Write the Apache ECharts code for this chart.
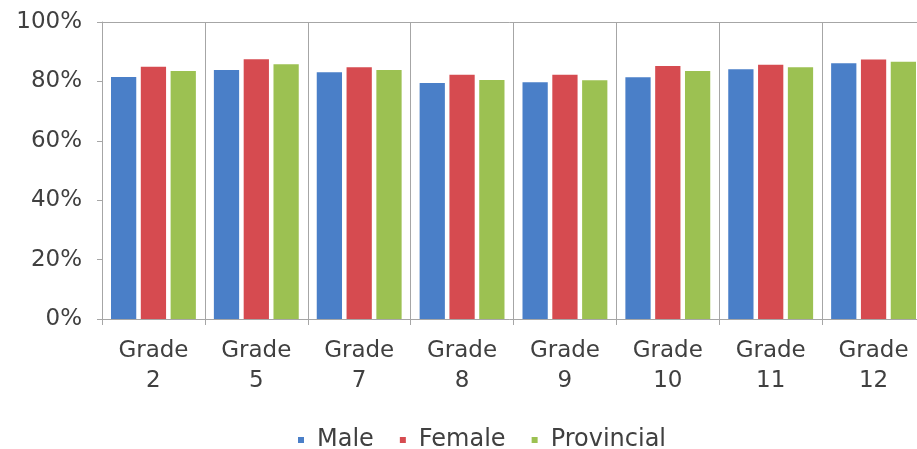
<!DOCTYPE html>
<html>
<head>
<meta charset="utf-8">
<script src="https://cdn.jsdelivr.net/npm/echarts@6/dist/echarts.min.js"></script>
<style>
html,body{margin:0;padding:0;background:#fff;overflow:hidden;}
#chart{width:917px;height:449px;}
</style>
</head>
<body>
<div id="chart"></div>
<script>
const categories = ['Grade 2','Grade 5','Grade 7','Grade 8','Grade 9','Grade 10','Grade 11','Grade 12'];
const male       = [81.5, 83.8, 83.1, 79.5, 79.7, 81.4, 84.1, 86.1];
const female     = [84.9, 87.5, 84.8, 82.2, 82.2, 85.2, 85.6, 87.4];
const provincial = [83.5, 85.8, 83.8, 80.5, 80.4, 83.5, 84.8, 86.6];
const yTicks = [0, 20, 40, 60, 80, 100];

const font = 'DejaVu Sans';
const textColor = '#404040';
const lineColor = '#a6a6a6';

const chart = echarts.init(document.getElementById('chart'), null, {renderer:'canvas'});
chart.setOption({
  animation: false,
  textStyle: {fontFamily: font},
  grid: {left: 102, width: 823, top: 22, height: 297, containLabel: false, outerBoundsMode: 'none'},
  legend: {
    left: 293, top: 423,
    itemWidth: 6, itemHeight: 6, itemGap: 26,
    icon: 'rect',
    textStyle: {fontFamily: font, fontSize: 24, color: textColor, padding: [0, 0, 0, 8]},
    data: ['Male','Female','Provincial']
  },
  xAxis: [{
    type: 'category',
    data: categories,
    axisLine: {lineStyle: {color: lineColor}},
    axisTick: {show: true, length: 6, lineStyle: {color: lineColor}},
    splitLine: {show: true, lineStyle: {color: lineColor, width: 1}},
    axisLabel: {
      fontFamily: font, fontSize: 23, color: textColor, lineHeight: 30, margin: 17,
      interval: 0,
      formatter: v => v.replace(' ', '\n')
    }
  }, {
    type: 'category',
    position: 'top',
    data: categories,
    axisLine: {show: true, lineStyle: {color: lineColor}},
    axisTick: {show: false},
    axisLabel: {show: false}
  }],
  yAxis: {
    type: 'value',
    min: 0, max: 100, interval: 20,
    axisLine: {show: true, lineStyle: {color: lineColor}},
    axisTick: {show: true, length: 5, lineStyle: {color: lineColor}},
    splitLine: {show: false},
    axisLabel: {
      fontFamily: font, fontSize: 23, color: textColor, margin: 20,
      formatter: v => yTicks.includes(v) ? v + '%' : ''
    }
  },
  series: [
    {name: 'Male', type: 'bar', data: male, barGap: '18%', barCategoryGap: '17.5%',
     itemStyle: {color: '#4a7fc8'}},
    {name: 'Female', type: 'bar', data: female,
     itemStyle: {color: '#d64b50'}},
    {name: 'Provincial', type: 'bar', data: provincial,
     itemStyle: {color: '#9cc152'}}
  ]
});
</script>
</body>
</html>
